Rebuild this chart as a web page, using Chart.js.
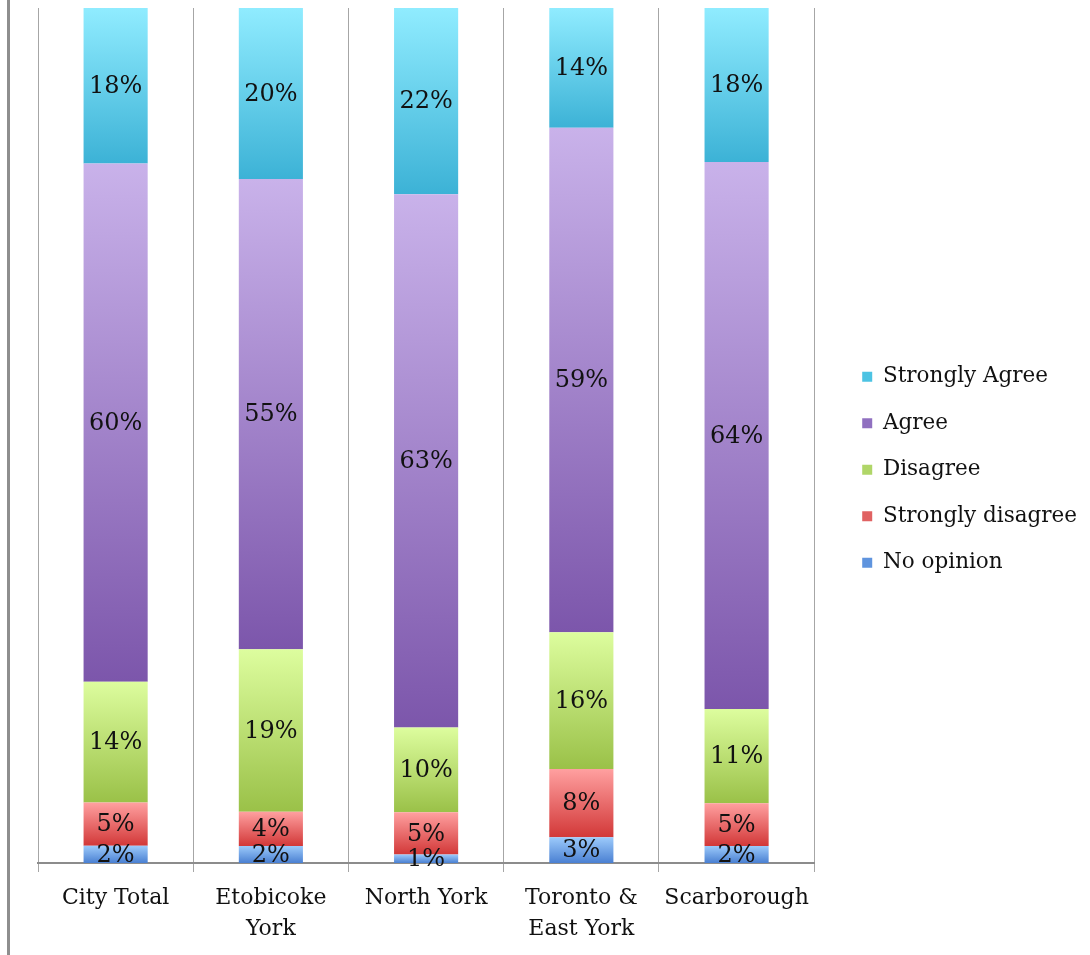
<!DOCTYPE html>
<html lang="en">
<head>
    <meta charset="UTF-8">
    <title>Stacked bars</title>
    <style>
        body { margin: 0; background: #fff; }
        .wrap { position: relative; width: 1090px; height: 955px; }
        .borda { position: absolute; left: 7px; top: 0; width: 3px; height: 955px; background: #8e8e8e; }
        canvas { position: absolute; left: 0; top: 0; }
    </style>
</head>
<body>
    <div class="wrap">
        <div class="borda"></div>
        <canvas id="grafico" width="1090" height="955"></canvas>
    </div>
</body>
</html>
<script src="https://cdn.jsdelivr.net/npm/chart.js"></script>
<script>
    // dados
    var categorias = ['City Total', ['Etobicoke', 'York'], 'North York', ['Toronto &', 'East York'], 'Scarborough'];
    var noOpinion = [2, 2, 1, 3, 2];
    var stronglyDisagree = [5, 4, 5, 8, 5];
    var disagree = [14, 19, 10, 16, 11];
    var agree = [60, 55, 63, 59, 64];
    var stronglyAgree = [18, 20, 22, 14, 18];

    var nomes = ['No opinion', 'Strongly disagree', 'Disagree', 'Agree', 'Strongly Agree'];
    var series = [noOpinion, stronglyDisagree, disagree, agree, stronglyAgree];

    // cores (topo, base) de cada serie
    var corTopo = ['#9ccafb', '#ffa0a0', '#ddfd9e', '#c9b2ea', '#90ecff'];
    var corBase = ['#4a80d2', '#d23838', '#9ac148', '#7c56ab', '#3cb2d6'];
    var corLegenda = ['#5f94de', '#e06262', '#b0d668', '#9070c0', '#4cc3e3'];

    // total de cada barra (grafico 100% empilhado)
    var totais = categorias.map(function (c, i) {
        var t = 0;
        series.forEach(function (s) { t += s[i]; });
        return t;
    });

    function normalizar(serie) {
        return serie.map(function (v, i) { return v / totais[i] * 100; });
    }

    function gradiente(context) {
        var chart = context.chart;
        var y = chart.scales.y;
        var ds = context.datasetIndex;
        var i = context.dataIndex;
        if (!y || i === undefined) return corBase[ds];
        var inicio = 0;
        for (var k = 0; k < ds; k++) inicio += series[k][i] / totais[i] * 100;
        var fim = inicio + series[ds][i] / totais[i] * 100;
        var g = chart.ctx.createLinearGradient(0, y.getPixelForValue(fim), 0, y.getPixelForValue(inicio));
        g.addColorStop(0, corTopo[ds]);
        g.addColorStop(1, corBase[ds]);
        return g;
    }

    var rotulos = {
        id: 'rotulos',
        afterDatasetsDraw: function (chart) {
            var c = chart.ctx;
            c.save();
            c.font = '24px "DejaVu Serif"';
            c.fillStyle = '#111';
            c.textAlign = 'center';
            c.textBaseline = 'middle';
            chart.data.datasets.forEach(function (ds, d) {
                var meta = chart.getDatasetMeta(d);
                meta.data.forEach(function (bar, i) {
                    var meio = (bar.y + bar.base) / 2;
                    c.fillText(series[d][i] + '%', bar.x, meio + 1);
                });
            });
            c.restore();
        }
    };

    var grafico = new Chart(document.getElementById('grafico'), {
        type: 'bar',
        data: {
            labels: categorias,
            datasets: series.map(function (s, d) {
                return {
                    label: nomes[d],
                    data: normalizar(s),
                    backgroundColor: gradiente,
                    borderWidth: 0,
                    categoryPercentage: 1,
                    barPercentage: 0.413
                };
            })
        },
        options: {
            responsive: false,
            animation: false,
            layout: {
                padding: { left: 38, top: 8, right: 3, bottom: 0 }
            },
            plugins: {
                tooltip: { enabled: false },
                legend: {
                    position: 'right',
                    align: 'start',
                    // titulo vazio usado so para descer a legenda
                    title: {
                        display: true,
                        text: '',
                        font: { size: 10, lineHeight: 1 },
                        padding: { top: 0, bottom: 323 }
                    },
                    labels: {
                        boxWidth: 10,
                        boxHeight: 10,
                        padding: 25,
                        color: '#111',
                        font: { family: 'DejaVu Serif', size: 21.5 },
                        generateLabels: function (chart) {
                            return chart.data.datasets.map(function (ds, d) {
                                return {
                                    text: ds.label,
                                    fillStyle: corLegenda[d],
                                    strokeStyle: corLegenda[d],
                                    fontColor: '#111',
                                    lineWidth: 0,
                                    datasetIndex: d
                                };
                            }).reverse();
                        }
                    }
                }
            },
            scales: {
                x: {
                    stacked: true,
                    grid: {
                        color: '#a6a6a6',
                        tickLength: 9,
                        offset: true
                    },
                    border: { color: '#8c8c8c', width: 2 },
                    ticks: {
                        color: '#111',
                        padding: 11,
                        maxRotation: 0,
                        font: { family: 'DejaVu Serif', size: 22, lineHeight: 1.4 }
                    },
                    afterFit: function (scale) { scale.height = 92; }
                },
                y: {
                    stacked: true,
                    position: 'right',
                    min: 0,
                    max: 100,
                    grid: { display: false },
                    border: { display: false },
                    ticks: { display: false },
                    // espaco entre a area do grafico e a legenda
                    afterFit: function (scale) { scale.width = 23; }
                }
            }
        },
        plugins: [rotulos]
    });
</script>
